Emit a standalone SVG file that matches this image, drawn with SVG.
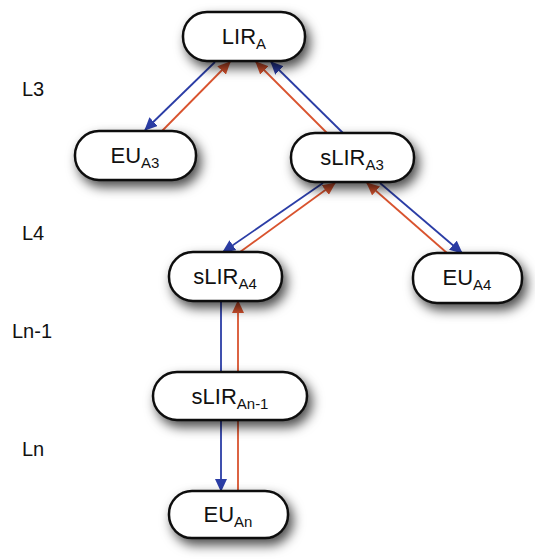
<svg xmlns="http://www.w3.org/2000/svg" width="535" height="560" viewBox="0 0 535 560">
<style>
.node rect{fill:#fff;stroke:#111;stroke-width:2.5;filter:url(#sh)}
.node text{font-family:"Liberation Sans",Arial,sans-serif;font-size:22px;fill:#111;text-anchor:middle}
.sub{font-size:15px}
.lvl{font-family:"Liberation Sans",Arial,sans-serif;font-size:20px;fill:#111}
.b{stroke:#2b3da6;stroke-width:1.8;fill:none}
.r{stroke:#d9532e;stroke-width:1.8;fill:none}
</style>
<defs>
<filter id="sh" x="-30%" y="-60%" width="170%" height="230%">
<feDropShadow dx="4" dy="6" stdDeviation="6" flood-color="#000" flood-opacity="0.7"/>
</filter>
<marker id="ab" markerUnits="userSpaceOnUse" markerWidth="14" markerHeight="12" refX="12" refY="6" orient="auto">
<path d="M0,0 L13,6 L0,12 z" fill="#2b3da6"/>
</marker>
<marker id="ar" markerUnits="userSpaceOnUse" markerWidth="14" markerHeight="12" refX="12" refY="6" orient="auto">
<path d="M0,0 L13,6 L0,12 z" fill="#d9532e"/>
</marker>
</defs>
<rect width="535" height="560" fill="#fff"/>
<g id="levels">
<text class="lvl" x="22" y="96">L3</text>
<text class="lvl" x="22" y="240">L4</text>
<text class="lvl" x="12" y="338">Ln-1</text>
<text class="lvl" x="22" y="456">Ln</text>
</g>
<g id="connectors">
<line class="b" x1="215" y1="62" x2="145" y2="130" marker-end="url(#ab)"/>
<line class="r" x1="162" y1="131" x2="230" y2="62" marker-end="url(#ar)"/>
<line class="r" x1="327" y1="133" x2="256" y2="62" marker-end="url(#ar)"/>
<line class="b" x1="343" y1="133" x2="271" y2="62" marker-end="url(#ab)"/>
<line class="b" x1="323" y1="183" x2="223" y2="252" marker-end="url(#ab)"/>
<line class="r" x1="240" y1="252" x2="335" y2="183" marker-end="url(#ar)"/>
<line class="b" x1="380" y1="183" x2="462" y2="253" marker-end="url(#ab)"/>
<line class="r" x1="447" y1="253" x2="367" y2="183" marker-end="url(#ar)"/>
<line class="b" x1="221" y1="301" x2="221" y2="372"/>
<line class="r" x1="238" y1="372" x2="238" y2="301" marker-end="url(#ar)"/>
<line class="b" x1="221" y1="420" x2="221" y2="491" marker-end="url(#ab)"/>
<line class="r" x1="238" y1="491" x2="238" y2="420"/>
</g>
<g id="LIR_A" class="node">
<rect x="183" y="12" width="122" height="49" rx="24"/>
<text x="244" y="44">LIR<tspan class="sub" dy="5">A</tspan></text>
</g>
<g id="EU_A3" class="node">
<rect x="75" y="131" width="121" height="49" rx="24"/>
<text x="135" y="163">EU<tspan class="sub" dy="5">A3</tspan></text>
</g>
<g id="sLIR_A3" class="node">
<rect x="291" y="133" width="123" height="49" rx="24"/>
<text x="352" y="165">sLIR<tspan class="sub" dy="5">A3</tspan></text>
</g>
<g id="sLIR_A4" class="node">
<rect x="169" y="252" width="113" height="49" rx="24"/>
<text x="225" y="284">sLIR<tspan class="sub" dy="5">A4</tspan></text>
</g>
<g id="EU_A4" class="node">
<rect x="413" y="253" width="109" height="50" rx="24"/>
<text x="467" y="285">EU<tspan class="sub" dy="5">A4</tspan></text>
</g>
<g id="sLIR_An-1" class="node">
<rect x="153" y="372" width="154" height="48" rx="24"/>
<text x="230" y="404">sLIR<tspan class="sub" dy="5">An-1</tspan></text>
</g>
<g id="EU_An" class="node">
<rect x="169" y="491" width="119" height="47" rx="23"/>
<text x="228" y="522">EU<tspan class="sub" dy="5">An</tspan></text>
</g>
</svg>
